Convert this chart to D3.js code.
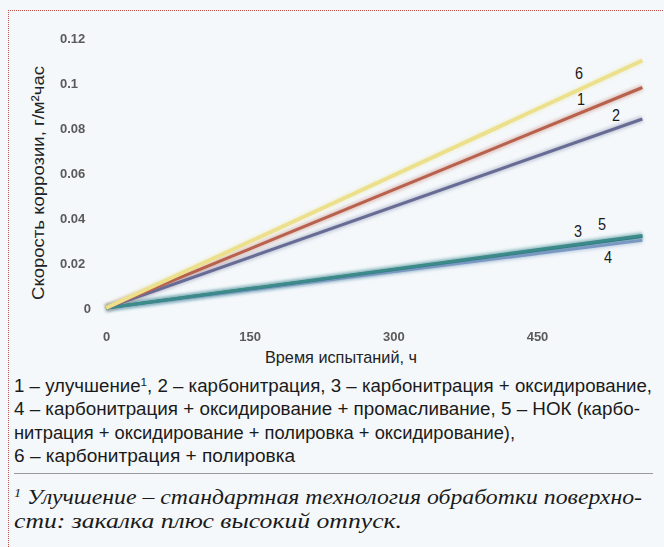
<!DOCTYPE html>
<html><head><meta charset="utf-8">
<script src="https://cdn.jsdelivr.net/npm/d3@7"></script>
<style>
html,body{margin:0;padding:0;background:#f4f8fb;}
svg{display:block;}
</style></head>
<body>
<svg id="c" width="664" height="547"></svg>
<script>
const xTicks = [0, 150, 300, 450];
const yTicks = [0, 0.02, 0.04, 0.06, 0.08, 0.1, 0.12];
const times = [0, 560];
const seriesNames = ["1", "2", "3", "4", "5", "6"];
const s1 = [0, 0.098];
const s2 = [0, 0.084];
const s3 = [0, 0.0318];
const s4 = [0, 0.0301];
const s5 = [0, 0.0322];
const s6 = [0, 0.110];
const seriesColors = ["#b8624e", "#676c95", "#2e7c83", "#7a98c2", "#3c8a8a", "#ece08c"];
const yTitle = "Скорость коррозии, г/м²час";
const xTitle = "Время испытаний, ч";
const legendLines = [
  ["1 – улучшение", "1", ", 2 – карбонитрация, 3 – карбонитрация + оксидирование,"],
  ["4 – карбонитрация + оксидирование + промасливание, 5 – НОК (карбо-"],
  ["нитрация + оксидирование + полировка + оксидирование),"],
  ["6 – карбонитрация + полировка"]
];
const footLines = [
  ["1", " Улучшение – стандартная технология обработки поверхно-"],
  ["", "сти: закалка плюс высокий отпуск."]
];

const svg = d3.select("#c");
const font = "'Liberation Sans',Arial,sans-serif";
const defs = svg.append("defs");
defs.append("filter").attr("id","soft").append("feGaussianBlur").attr("stdDeviation",0.7);
defs.append("filter").attr("id","glow").append("feGaussianBlur").attr("stdDeviation",1.6);

// dotted border
svg.append("line").attr("x1",8).attr("x2",664).attr("y1",10.5).attr("y2",10.5)
  .attr("stroke","#c0504d").attr("stroke-width",1).attr("stroke-dasharray","1,1");
svg.append("line").attr("x1",8.5).attr("x2",8.5).attr("y1",10).attr("y2",547)
  .attr("stroke","#c0504d").attr("stroke-width",1).attr("stroke-dasharray","1,1");

const x = d3.scaleLinear().domain([0, 450]).range([106, 537]);
const y = d3.scaleLinear().domain([0, 0.12]).range([308, 38]);

// gridlines
svg.append("g").selectAll("line").data(yTicks.filter(d=>d>0)).join("line")
  .attr("x1",100).attr("x2",643).attr("y1",d=>y(d)).attr("y2",d=>y(d))
  .attr("stroke","#e3e6ea").attr("stroke-width",2.5).attr("filter","url(#soft)");

// y tick labels
const yAxis = svg.append("g").attr("transform","translate(100,0)")
  .call(d3.axisLeft(y).tickValues(yTicks).tickSize(0).tickFormat(d=>d===0?"0":String(+d.toFixed(2))));
yAxis.select(".domain").remove();
yAxis.selectAll("text").attr("font-family",font).attr("font-weight","bold").attr("font-size",13)
  .attr("fill","#5a5a5a").attr("filter","url(#soft)")
  .attr("text-anchor", d=>d===0?"end":"start").attr("x", d=>d===0?-9:-40);

// x tick labels
const xAxis = svg.append("g").attr("transform","translate(0,329)")
  .call(d3.axisBottom(x).tickValues(xTicks).tickSize(0).tickFormat(d3.format("d")));
xAxis.select(".domain").remove();
xAxis.selectAll("text").attr("font-family",font).attr("font-weight","bold").attr("font-size",13)
  .attr("fill","#5a5a5a").attr("filter","url(#soft)");

// titles
svg.append("text").attr("transform","translate(44,183) rotate(-90)").attr("text-anchor","middle")
  .attr("font-family",font).attr("font-size",17).attr("fill","#222")
  .attr("textLength",234).attr("lengthAdjust","spacingAndGlyphs").text(yTitle);
svg.append("text").attr("x",341).attr("y",363).attr("text-anchor","middle")
  .attr("font-family",font).attr("font-size",17).attr("fill","#222")
  .attr("textLength",152).attr("lengthAdjust","spacingAndGlyphs").text(xTitle);

// series
const allSeries = [s1, s2, s3, s4, s5, s6];
const order = [3, 2, 4, 1, 0, 5];
const line = d3.line().x((d,i)=>x(times[i])).y(d=>y(d));
const gl = svg.append("g");
order.forEach(k => {
  gl.append("path").attr("d", line(allSeries[k])).attr("fill","none")
    .attr("stroke", seriesColors[k]).attr("stroke-opacity",0.3).attr("stroke-width",7).attr("filter","url(#glow)");
});
order.forEach(k => {
  gl.append("path").attr("d", line(allSeries[k])).attr("fill","none")
    .attr("stroke", seriesColors[k]).attr("stroke-width", k===5?4:3).attr("filter","url(#soft)");
});

// series labels
const labelPos = {"6":[579,79], "1":[581,105], "2":[616,121], "3":[578,237], "5":[602,230], "4":[608,263]};
svg.append("g").selectAll("text").data(seriesNames).join("text")
  .attr("x", d=>labelPos[d][0]).attr("y", d=>labelPos[d][1]).attr("text-anchor","middle")
  .attr("font-family",font).attr("font-size",17).attr("fill","#1a1a1a")
  .attr("transform", d=>`translate(${labelPos[d][0]*0.15},0) scale(0.85,1)`).text(d=>d);

// legend text
const legY = [392, 415, 439, 462];
const legW = [638, 626, 501, 281];
legendLines.forEach((parts, i) => {
  const t = svg.append("text").attr("x",14).attr("y",legY[i]).attr("font-family",font)
    .attr("font-size",17.5).attr("fill","#1a1a1a");
  if (parts.length === 3) {
    t.append("tspan").text(parts[0]);
    t.append("tspan").attr("dy",-6).attr("font-size",11).text(parts[1]);
    t.append("tspan").attr("dy",6).text(parts[2]);
  } else t.text(parts[0]);
  t.attr("textLength", legW[i]).attr("lengthAdjust","spacingAndGlyphs");
});

svg.append("line").attr("x1",14).attr("x2",653).attr("y1",473.5).attr("y2",473.5)
  .attr("stroke","#9a9a9a").attr("stroke-width",1.2);

const footY = [504, 528];
const footW = [628, 388];
footLines.forEach((parts, i) => {
  const t = svg.append("text").attr("x",14).attr("y",footY[i])
    .attr("font-family","'Liberation Serif','DejaVu Serif',serif").attr("font-style","italic")
    .attr("font-size",21.5).attr("fill","#1a1a1a");
  if (parts[0]) {
    t.append("tspan").attr("dy",-7).attr("font-size",13).text(parts[0]);
    t.append("tspan").attr("dy",7).text(parts[1]);
  } else t.text(parts[1]);
  t.attr("textLength", footW[i]).attr("lengthAdjust","spacingAndGlyphs");
});
</script>
</body></html>
